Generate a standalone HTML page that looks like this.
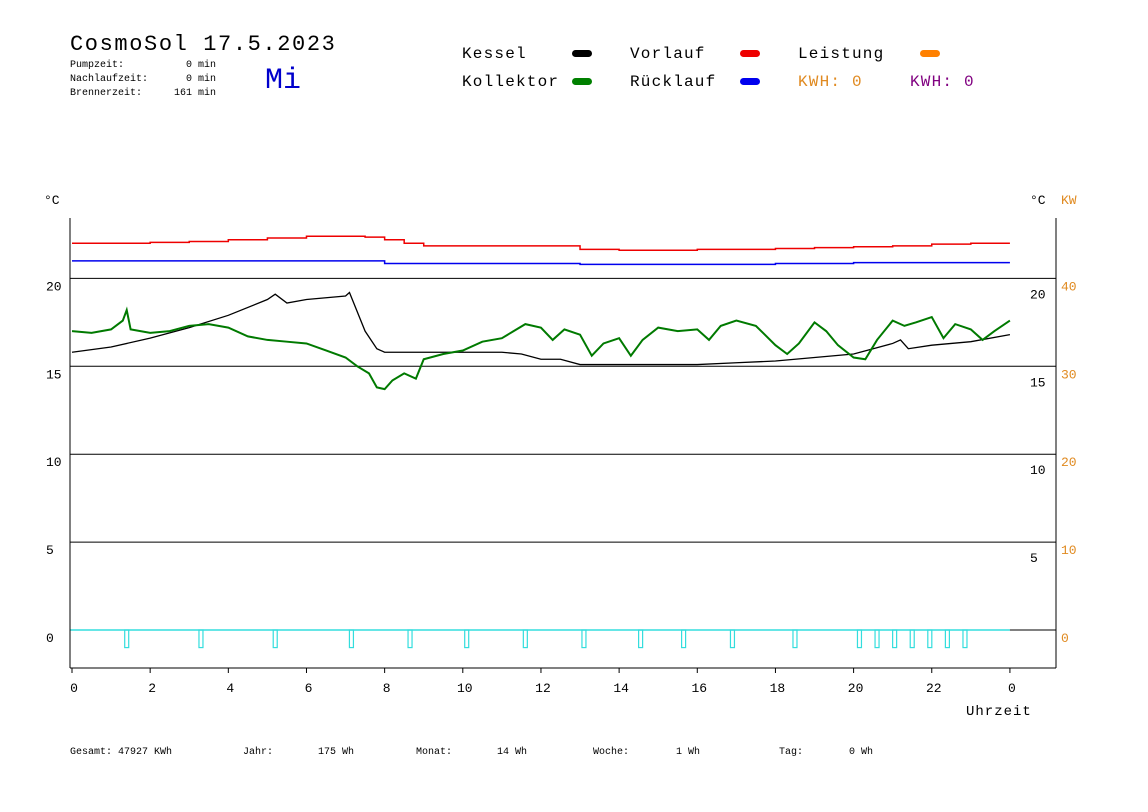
<!DOCTYPE html>
<html><head><meta charset="utf-8"><style>
body{margin:0;background:#fff;}
svg{display:block;font-family:"Liberation Mono",monospace;}
</style></head><body>
<svg id="chart" width="1148" height="812" viewBox="0 0 1148 812" xmlns="http://www.w3.org/2000/svg">
<text x="70" y="50" font-size="22" letter-spacing="1.6" fill="#000">CosmoSol 17.5.2023</text>
<g font-size="10" fill="#000">
<text x="70" y="67">Pumpzeit:</text><text x="216" y="67" text-anchor="end">0 min</text>
<text x="70" y="81">Nachlaufzeit:</text><text x="216" y="81" text-anchor="end">0 min</text>
<text x="70" y="95">Brennerzeit:</text><text x="216" y="95" text-anchor="end">161 min</text>
</g>
<text x="265" y="88" font-size="30" fill="#0000cc">Mi</text>
<g font-size="16" letter-spacing="1.2">
<text x="462" y="58">Kessel</text><rect x="572" y="50" width="20" height="7" rx="3.5" fill="#000"/>
<text x="462" y="86">Kollektor</text><rect x="572" y="78" width="20" height="7" rx="3.5" fill="#008000"/>
<text x="630" y="58">Vorlauf</text><rect x="740" y="50" width="20" height="7" rx="3.5" fill="#ee0000"/>
<text x="630" y="86">Rücklauf</text><rect x="740" y="78" width="20" height="7" rx="3.5" fill="#0000ee"/>
<text x="798" y="58">Leistung</text><rect x="920" y="50" width="20" height="7" rx="3.5" fill="#ff8000"/>
<text x="798" y="86" fill="#e08a20">KWH: 0</text>
<text x="910" y="86" fill="#800080">KWH: 0</text>
</g>
<text x="44" y="204" font-size="13">°C</text>
<text x="1030" y="204" font-size="13">°C</text>
<text x="1061" y="204" font-size="13" fill="#e08a20">KW</text>
<g id="grid"></g>
<g id="series"></g>
<g id="axes"></g>
<text x="966" y="715" font-size="14" letter-spacing="1">Uhrzeit</text>
<g font-size="10">
<text x="70" y="754">Gesamt:  47927 KWh</text>
<text x="243" y="754">Jahr:</text><text x="318" y="754">175 Wh</text>
<text x="416" y="754">Monat:</text><text x="497" y="754">14 Wh</text>
<text x="593" y="754">Woche:</text><text x="676" y="754">1 Wh</text>
<text x="779" y="754">Tag:</text><text x="849" y="754">0 Wh</text>
</g>
</svg>
<script>
const tempTicks=[0,5,10,15,20];
const kwTicks=[0,10,20,30,40];
const hourTicks=[0,2,4,6,8,10,12,14,16,18,20,22,24];
const hourLabels=["0","2","4","6","8","10","12","14","16","18","20","22","0"];
const vorlaufH=[0,1,2,3,4,5,6,7,7.5,8,8.5,9,12,13,14,16,18,19,20,21,22,23,24];
const vorlaufT=[22.0,22.0,22.05,22.1,22.2,22.3,22.4,22.4,22.35,22.2,22.0,21.85,21.85,21.65,21.6,21.65,21.7,21.75,21.8,21.85,21.95,22.0,22.0];
const ruecklaufH=[0,4,7.7,8,9,13,15,17,18,20,22,24];
const ruecklaufT=[21.0,21.0,21.0,20.85,20.85,20.8,20.8,20.8,20.85,20.9,20.9,20.9];
const kesselH=[0,1,2,3,4,5,5.2,5.5,6,7,7.1,7.5,7.8,8,9,10,11,11.5,12,12.5,13,14,15,16,17,18,19,20,20.5,21,21.2,21.4,22,23,24];
const kesselT=[15.8,16.1,16.6,17.2,17.9,18.8,19.1,18.6,18.8,19.0,19.2,17.0,16.0,15.8,15.8,15.8,15.8,15.7,15.4,15.4,15.1,15.1,15.1,15.1,15.2,15.3,15.5,15.7,16.0,16.3,16.5,16.0,16.2,16.4,16.8];
const kollektorH=[0,0.5,1,1.3,1.4,1.5,2,2.5,3,3.5,4,4.5,5,5.5,6,6.5,7,7.3,7.6,7.8,8,8.2,8.5,8.8,9,9.5,10,10.5,11,11.3,11.6,12,12.3,12.6,13,13.3,13.6,14,14.3,14.6,15,15.5,16,16.3,16.6,17,17.5,18,18.3,18.6,19,19.3,19.6,20,20.3,20.6,21,21.3,21.6,22,22.3,22.6,23,23.3,23.6,24];
const kollektorT=[17.0,16.9,17.1,17.6,18.2,17.1,16.9,17.0,17.3,17.4,17.2,16.7,16.5,16.4,16.3,15.9,15.5,15.0,14.6,13.8,13.7,14.2,14.6,14.3,15.4,15.7,15.9,16.4,16.6,17.0,17.4,17.2,16.5,17.1,16.8,15.6,16.3,16.6,15.6,16.5,17.2,17.0,17.1,16.5,17.3,17.6,17.3,16.2,15.7,16.3,17.5,17.0,16.2,15.5,15.4,16.5,17.6,17.3,17.5,17.8,16.6,17.4,17.1,16.5,17.0,17.6];
const pumpPulseH=[1.4,3.3,5.2,7.15,8.65,10.1,11.6,13.1,14.55,15.65,16.9,18.5,20.15,20.6,21.05,21.5,21.95,22.4,22.85];
const pumpPulseDepth=-1.0;

const NS="http://www.w3.org/2000/svg";
const xS=h=>72+h*39.08;
const yS=t=>630-t*17.58;
const kwY=k=>630-k*8.79;
function mk(tag,attrs,parent){const e=document.createElementNS(NS,tag);for(const k in attrs)e.setAttribute(k,attrs[k]);parent.appendChild(e);return e;}
const grid=document.getElementById('grid'),series=document.getElementById('series'),axes=document.getElementById('axes');

tempTicks.forEach(t=>{
  if(t>0){const l=mk('line',{x1:70,x2:1056,y1:yS(t),y2:yS(t),stroke:'#000','stroke-width':1},grid);
  
  }
  const a=mk('text',{x:46,y:yS(t)+12,'font-size':13},axes);a.textContent=t;
  
  
  if(t>0){const b=mk('text',{x:1030,y:yS(t)+20,'font-size':13},axes);b.textContent=t;
  
  }
});
kwTicks.forEach(k=>{
  const a=mk('text',{x:1061,y:kwY(k)+12,'font-size':13,fill:'#e08a20'},axes);a.textContent=k;
  
  
});
const la=mk('line',{x1:70,x2:70,y1:218,y2:668,stroke:'#000'},axes);


const ra=mk('line',{x1:1056,x2:1056,y1:218,y2:668,stroke:'#000'},axes);


const ba=mk('line',{x1:70,x2:1056,y1:668,y2:668,stroke:'#000'},axes);


hourTicks.forEach((h,i)=>{
  const tk=mk('line',{x1:xS(h),x2:xS(h),y1:668,y2:673,stroke:'#000'},axes);
  
  
  const tx=mk('text',{x:xS(h)+2,y:692,'font-size':13,'text-anchor':'middle'},axes);tx.textContent=hourLabels[i];
  
  
});
function line(H,T,color,name,w,step){
  let d='';H.forEach((h,i)=>{
    if(i===0)d+='M'+xS(h)+','+yS(T[i]);
    else if(step)d+='H'+xS(h)+'V'+yS(T[i]);
    else d+='L'+xS(h)+','+yS(T[i]);});
  const p=mk('path',{d:d,fill:'none',stroke:color,'stroke-width':w},series);
  
  
}
line(vorlaufH,vorlaufT,'#ee0000','vorlauf-line',1.5,true);
line(ruecklaufH,ruecklaufT,'#0000ee','ruecklauf-line',1.5,true);
line(kesselH,kesselT,'#000','kessel-line',1.3,false);
line(kollektorH,kollektorT,'#007a00','kollektor-line',2,false);
const base=mk('line',{x1:xS(0)-2,x2:xS(24),y1:yS(0),y2:yS(0),stroke:'#33dddd','stroke-width':1.5},series);


pumpPulseH.forEach(h=>{
  const r=mk('rect',{x:xS(h)-2,y:yS(0),width:4,height:yS(pumpPulseDepth)-yS(0),fill:'none',stroke:'#33dddd','stroke-width':1.2},series);
  
  
});
const tail=mk('line',{x1:xS(24),x2:1056,y1:yS(0),y2:yS(0),stroke:'#000'},series);


</script>
</body></html>
